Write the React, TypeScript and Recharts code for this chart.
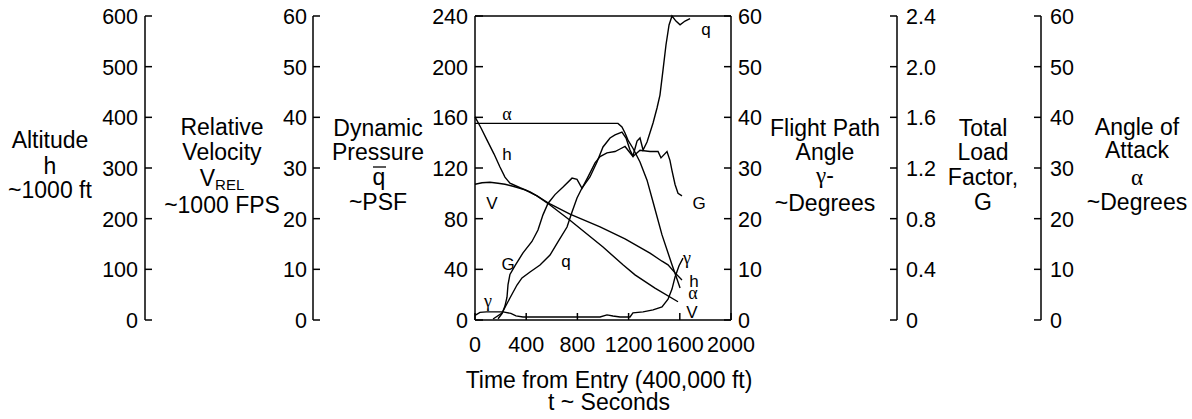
import React from 'react';
import { ComposedChart, Line, XAxis, YAxis, ReferenceLine, ReferenceDot } from 'recharts';

const SANS = '"Liberation Sans", Arial, Helvetica, sans-serif';
const SERIF = '"Liberation Serif", "Times New Roman", serif';
const INK = '#000';

// ---------- tick values ----------
const timeTicks = [0, 400, 800, 1200, 1600, 2000];
const altitudeTicks = [0, 100, 200, 300, 400, 500, 600];
const velocityTicks = [0, 10, 20, 30, 40, 50, 60];
const pressureTicks = [0, 40, 80, 120, 160, 200, 240];
const pathAngleTicks = [0, 10, 20, 30, 40, 50, 60];
const loadTicks = [0, 0.4, 0.8, 1.2, 1.6, 2.0, 2.4];
const attackTicks = [0, 10, 20, 30, 40, 50, 60];

// ---------- series (time in s) ----------
const altitudeTime = [0, 47, 94, 148, 195, 234, 273, 352, 430, 484, 586, 742, 977, 1172, 1367, 1461, 1508, 1563, 1617];
const altitudeValue = [401, 379, 355, 328, 302, 282, 270, 261, 253, 245, 229, 209, 184, 160, 132, 116, 109, 93, 79];

const velocityTime = [0, 55, 117, 180, 234, 297, 391, 484, 586, 742, 1000, 1156, 1250, 1406, 1586];
const velocityValue = [26.8, 27.1, 27.2, 27.0, 26.8, 26.4, 25.7, 24.5, 22.7, 19.7, 14.4, 10.9, 8.9, 6.3, 3.6];

const attackTime = [0, 1117, 1148, 1172, 1195, 1234, 1289, 1344, 1391, 1461, 1539, 1570, 1602];
const attackValue = [38.8, 38.8, 38.1, 36.9, 35.5, 33.9, 31.2, 27.6, 23.3, 16.8, 10.9, 8.7, 6.3];

const pathAngleTime = [0, 39, 90, 219, 280, 320, 375, 977, 1031, 1078, 1133, 1211, 1234, 1313, 1391, 1461, 1508, 1539, 1563, 1594, 1625];
const pathAngleValue = [0.9, 1.5, 1.6, 1.6, 1.3, 0.8, 0.6, 0.6, 1.0, 0.8, 0.6, 0.6, 1.4, 1.6, 2.0, 2.6, 4.1, 6.1, 8.5, 10.7, 12.2];

const loadTime = [180, 211, 234, 250, 258, 273, 313, 375, 445, 492, 531, 570, 625, 688, 758, 797, 836, 883, 938, 977, 1031, 1094, 1133, 1172, 1211, 1234, 1289, 1367, 1430, 1453, 1500, 1523, 1539, 1563, 1586, 1617];
const loadValue = [0.01, 0.05, 0.11, 0.18, 0.28, 0.36, 0.43, 0.53, 0.62, 0.71, 0.83, 0.92, 0.99, 1.05, 1.12, 1.11, 1.04, 1.13, 1.24, 1.29, 1.32, 1.33, 1.35, 1.37, 1.32, 1.29, 1.34, 1.33, 1.33, 1.28, 1.33, 1.26, 1.18, 1.07, 1.0, 0.98];

const pressureTime = [141, 211, 273, 328, 367, 430, 508, 586, 648, 719, 758, 797, 836, 898, 953, 1000, 1055, 1094, 1148, 1180, 1211, 1234, 1266, 1289, 1313, 1344, 1391, 1422, 1445, 1469, 1492, 1516, 1539, 1570, 1602, 1641, 1680];
const pressureValue = [0.8, 5.5, 17.4, 27.6, 33.2, 37.9, 43.4, 51.3, 61.6, 73.4, 85.3, 96.3, 104.2, 112.9, 124.7, 136.6, 143.7, 146.1, 148.4, 143.7, 134.2, 129.5, 141.3, 143.7, 134.2, 140.5, 155.5, 167.4, 177.6, 197.4, 217.1, 232.9, 240, 236, 233, 236, 238];

// curve annotations (placed in time / dynamic-pressure units)
const noteText = ['α', 'h', 'V', 'G', 'q', 'γ', 'q', 'G', 'γ', 'h', 'α', 'V'];
const noteTime = [250, 250, 133, 258, 711, 102, 1805, 1750, 1656, 1711, 1703, 1695];
const noteValue = [158, 126, 88, 39.5, 41.8, 10.3, 225, 88, 44.2, 26, 16.6, 1.6];

const zip = (ts: number[], vs: number[]) => ts.map((t, i) => ({ t, v: vs[i] }));
const altitudeData = zip(altitudeTime, altitudeValue);
const velocityData = zip(velocityTime, velocityValue);
const attackData = zip(attackTime, attackValue);
const pathAngleData = zip(pathAngleTime, pathAngleValue);
const loadData = zip(loadTime, loadValue);
const pressureData = zip(pressureTime, pressureValue);

const TICK_FONT = 21.5;
const TITLE_FONT = 23;

const makeYTick = (len: number, gap: number, side: 'left' | 'right', format?: (v: number) => string) =>
  (props: any) => {
    const { x, y, payload } = props;
    const label = format ? format(payload.value) : String(payload.value);
    return (
      <g>
        <line x1={x} y1={y} x2={x + len} y2={y} stroke={INK} strokeWidth={1.5} />
        <text
          x={side === 'left' ? x - gap : x + gap}
          y={y + 8}
          textAnchor={side === 'left' ? 'end' : 'start'}
          fontSize={TICK_FONT}
          fontFamily={SANS}
          fill={INK}
        >
          {label}
        </text>
      </g>
    );
  };

const XTick = (props: any) => {
  const { x, y, payload } = props;
  return (
    <g>
      <line x1={x} y1={y} x2={x} y2={y - 7} stroke={INK} strokeWidth={1.5} />
      <text x={x} y={y + 32} textAnchor="middle" fontSize={TICK_FONT} fontFamily={SANS} fill={INK}>
        {payload.value}
      </text>
    </g>
  );
};

type TitleLine = { text: string; off: number; kind?: 'sub' | 'bar' | 'greek' | 'greekdash' };

const AxisTitle = (props: any) => {
  const { anchor, dx, lines } = props;
  const vb = props.viewBox || { x: props.x, y: props.y, width: props.width, height: props.height };
  const lineX = anchor === 'left' ? vb.x + vb.width : vb.x;
  const cx = lineX + dx;
  return (
    <g>
      {lines.map((ln: TitleLine, i: number) => {
        const y = vb.y + ln.off;
        if (ln.kind === 'sub') {
          return (
            <text key={i} x={cx} y={y} textAnchor="middle" fontSize={TITLE_FONT} fontFamily={SANS} fill={INK}>
              {ln.text}
              <tspan fontSize={15} dy={4}>REL</tspan>
            </text>
          );
        }
        if (ln.kind === 'bar') {
          return (
            <g key={i}>
              <line x1={cx - 5} x2={cx + 8} y1={y - 18} y2={y - 18} stroke={INK} strokeWidth={1.3} />
              <text x={cx + 1} y={y} textAnchor="middle" fontSize={TITLE_FONT} fontFamily={SANS} fill={INK}>
                {ln.text}
              </text>
            </g>
          );
        }
        if (ln.kind === 'greek') {
          return (
            <text key={i} x={cx} y={y} textAnchor="middle" fontSize={TITLE_FONT} fontFamily={SERIF} fill={INK}>
              {ln.text}
            </text>
          );
        }
        if (ln.kind === 'greekdash') {
          return (
            <text key={i} x={cx} y={y} textAnchor="middle" fontSize={TITLE_FONT} fill={INK}>
              <tspan fontFamily={SERIF}>{ln.text}</tspan>
              <tspan fontFamily={SANS}>-</tspan>
            </text>
          );
        }
        return (
          <text key={i} x={cx} y={y} textAnchor="middle" fontSize={TITLE_FONT} fontFamily={SANS} fill={INK}>
            {ln.text}
          </text>
        );
      })}
    </g>
  );
};

const XTitle = (props: any) => {
  const vb = props.viewBox || { x: props.x, y: props.y, width: props.width, height: props.height };
  const cx = vb.x + vb.width / 2 + 6;
  return (
    <g>
      <text x={cx} y={vb.y + 68} textAnchor="middle" fontSize={TITLE_FONT} fontFamily={SANS} fill={INK}>
        Time from Entry (400,000 ft)
      </text>
      <text x={cx} y={vb.y + 90} textAnchor="middle" fontSize={TITLE_FONT} fontFamily={SANS} fill={INK}>
        t ~ Seconds
      </text>
    </g>
  );
};

const altitudeTitle: TitleLine[] = [
  { text: 'Altitude', off: 132 },
  { text: 'h', off: 158 },
  { text: '~1000 ft', off: 182 },
];
const velocityTitle: TitleLine[] = [
  { text: 'Relative', off: 119 },
  { text: 'Velocity', off: 144 },
  { text: 'V', off: 170, kind: 'sub' },
  { text: '~1000 FPS', off: 197 },
];
const pressureTitle: TitleLine[] = [
  { text: 'Dynamic', off: 120 },
  { text: 'Pressure', off: 144 },
  { text: 'q', off: 169, kind: 'bar' },
  { text: '~PSF', off: 194 },
];
const pathAngleTitle: TitleLine[] = [
  { text: 'Flight Path', off: 120 },
  { text: 'Angle', off: 144 },
  { text: 'γ', off: 167, kind: 'greekdash' },
  { text: '~Degrees', off: 195 },
];
const loadTitle: TitleLine[] = [
  { text: 'Total', off: 120 },
  { text: 'Load', off: 144 },
  { text: 'Factor,', off: 169 },
  { text: 'G', off: 194 },
];
const attackTitle: TitleLine[] = [
  { text: 'Angle of', off: 119 },
  { text: 'Attack', off: 142 },
  { text: 'α', off: 169, kind: 'greek' },
  { text: '~Degrees', off: 194 },
];

const NoteShape = (text: string) => (props: any) => {
  const greek = text === 'α' || text === 'γ';
  return (
    <text
      x={props.cx}
      y={props.cy}
      textAnchor="middle"
      fontSize={greek ? 18 : 17}
      fontFamily={greek ? SERIF : SANS}
      fill={INK}
    >
      {text}
    </text>
  );
};

const axisLine = { stroke: INK, strokeWidth: 1.5 };
const lineProps = {
  type: 'linear' as const,
  dataKey: 'v',
  stroke: INK,
  strokeWidth: 1.4,
  dot: false,
  activeDot: false,
  isAnimationActive: false,
};

// axis ids: ordered so that the first of each side sits next to the plot
const ID_Q = 'y1q';
const ID_VEL = 'y2vel';
const ID_ALT = 'y3alt';
const ID_GAMMA = 'y4gamma';
const ID_LOAD = 'y5load';
const ID_ALPHA = 'y6alpha';

export default function App() {
  return (
    <div style={{ position: 'absolute', left: 0, top: 0, width: 1192, height: 419, background: '#fff' }}>
      <ComposedChart width={1192} height={419} margin={{ top: 16, right: 0, bottom: 0, left: 0 }}>
        <XAxis
          xAxisId={0}
          dataKey="t"
          type="number"
          domain={[0, 2000]}
          ticks={timeTicks}
          interval={0}
          height={99}
          axisLine={axisLine}
          tickLine={false}
          tickSize={0}
          tickMargin={0}
          tick={XTick}
          label={<XTitle />}
        />
        <YAxis
          yAxisId={ID_Q}
          orientation="left"
          type="number"
          domain={[0, 240]}
          ticks={pressureTicks}
          interval={0}
          width={162}
          axisLine={axisLine}
          tickLine={false}
          tickSize={0}
          tickMargin={0}
          tick={makeYTick(8, 7, 'left')}
          label={<AxisTitle anchor="left" dx={-97} lines={pressureTitle} />}
        />
        <YAxis
          yAxisId={ID_VEL}
          orientation="left"
          type="number"
          domain={[0, 60]}
          ticks={velocityTicks}
          interval={0}
          width={168}
          axisLine={axisLine}
          tickLine={false}
          tickSize={0}
          tickMargin={0}
          tick={makeYTick(7, 6, 'left')}
          label={<AxisTitle anchor="left" dx={-91} lines={velocityTitle} />}
        />
        <YAxis
          yAxisId={ID_ALT}
          orientation="left"
          type="number"
          domain={[0, 600]}
          ticks={altitudeTicks}
          interval={0}
          width={145}
          axisLine={axisLine}
          tickLine={false}
          tickSize={0}
          tickMargin={0}
          tick={makeYTick(7, 7, 'left')}
          label={<AxisTitle anchor="left" dx={-95} lines={altitudeTitle} />}
        />
        <YAxis
          yAxisId={ID_GAMMA}
          orientation="right"
          type="number"
          domain={[0, 60]}
          ticks={pathAngleTicks}
          interval={0}
          width={166}
          axisLine={axisLine}
          tickLine={false}
          tickSize={0}
          tickMargin={0}
          tick={makeYTick(-7, 7, 'right')}
          label={<AxisTitle anchor="right" dx={94} lines={pathAngleTitle} />}
        />
        <YAxis
          yAxisId={ID_LOAD}
          orientation="right"
          type="number"
          domain={[0, 2.4]}
          ticks={loadTicks}
          interval={0}
          width={144}
          axisLine={axisLine}
          tickLine={false}
          tickSize={0}
          tickMargin={0}
          tick={makeYTick(-7, 9, 'right', (v) => (v === 0 ? '0' : v.toFixed(1)))}
          label={<AxisTitle anchor="right" dx={86} lines={loadTitle} />}
        />
        <YAxis
          yAxisId={ID_ALPHA}
          orientation="right"
          type="number"
          domain={[0, 60]}
          ticks={attackTicks}
          interval={0}
          width={151}
          axisLine={axisLine}
          tickLine={false}
          tickSize={0}
          tickMargin={0}
          tick={makeYTick(-7, 9, 'right')}
          label={<AxisTitle anchor="right" dx={96} lines={attackTitle} />}
        />

        <ReferenceLine yAxisId={ID_Q} y={240} stroke={INK} strokeWidth={1.5} />

        <Line {...lineProps} yAxisId={ID_ALT} data={altitudeData} />
        <Line {...lineProps} yAxisId={ID_VEL} data={velocityData} />
        <Line {...lineProps} yAxisId={ID_ALPHA} data={attackData} />
        <Line {...lineProps} yAxisId={ID_GAMMA} data={pathAngleData} />
        <Line {...lineProps} yAxisId={ID_LOAD} data={loadData} />
        <Line {...lineProps} yAxisId={ID_Q} data={pressureData} />

        {noteText.map((txt, i) => (
          <ReferenceDot
            key={i}
            yAxisId={ID_Q}
            x={noteTime[i]}
            y={noteValue[i]}
            r={0}
            shape={NoteShape(txt)}
          />
        ))}
      </ComposedChart>
    </div>
  );
}
